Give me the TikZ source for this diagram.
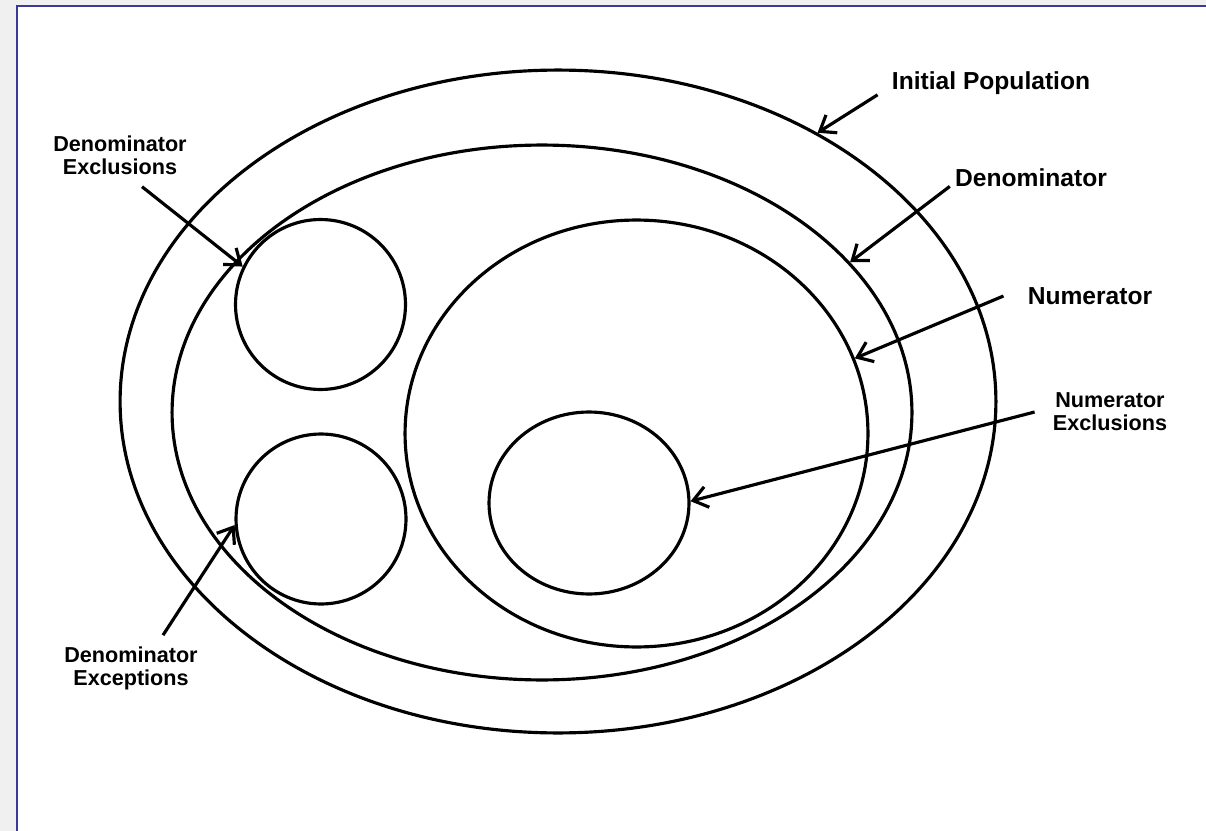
\documentclass[tikz,border=0pt]{standalone}
\usepackage{fontspec}
\setmainfont{Liberation Sans}
\usetikzlibrary{arrows.meta, shapes.geometric}
\definecolor{paneGray}{RGB}{240,240,240}
\definecolor{paneBlue}{RGB}{58,58,150}

\tikzset{
  setring/.style={draw, ellipse, inner sep=0pt, line width=1.8pt},
  setdisc/.style={draw, circle, inner sep=0pt, line width=1.8pt},
  biglabel/.style={font=\bfseries\fontsize{14}{16}\selectfont, inner sep=0pt},
  smalllabel/.style={font=\bfseries\fontsize{12.3}{13}\selectfont, align=center, inner sep=0pt},
  pointer/.style={-{Straight Barb[length=8pt,width=12pt]}, line width=1.8pt},
}

\begin{document}
\begin{tikzpicture}[x=0.02cm, y=-0.02cm]
  \useasboundingbox (0,0) rectangle (1206,831);
  % window frame
  \fill[paneGray] (0,0) rectangle (1206,831);
  \fill[white] (17,6) rectangle (1206,831);
  \draw[paneBlue, line width=0.6pt] (17,831) -- (17,6) -- (1206,6);

  % the sets
  \node[setring, minimum width=17.52cm, minimum height=13.26cm] (pop) at (558,401.5) {};
  \node[setring, minimum width=14.8cm, minimum height=10.7cm] (den) at (542,412.5) {};
  \node[setring, minimum width=9.26cm, minimum height=8.54cm] (num) at (636.5,433.5) {};
  \node[setring, minimum width=4cm, minimum height=3.64cm] (numExcl) at (589,503) {};
  \node[setdisc, minimum size=3.4cm] (denExcl) at (320.5,304.5) {};
  \node[setdisc, minimum size=3.4cm] (denExc) at (321,519) {};

  % labels
  \node[biglabel] (popLbl) at (991,83) {Initial Population};
  \node[biglabel] (denLbl) at (1031,178) {Denominator};
  \node[biglabel] (numLbl) at (1090,296) {Numerator};
  \node[smalllabel] (numExclLbl) at (1110,412) {Numerator\\Exclusions};
  \node[smalllabel] (denExclLbl) at (120,155) {Denominator\\Exclusions};
  \node[smalllabel] (denExcLbl) at (131,668) {Denominator\\Exceptions};

  % pointers
  \draw[pointer] ([shift={(-14,0)}]popLbl.south west) -- (pop.46);
  \draw[pointer] ([shift={(-5,-1)}]denLbl.south west) -- (den.26);
  \draw[pointer] ([shift={(-24,0)}]numLbl.west) -- (num.19);
  \draw[pointer] ([shift={(-18,0)}]numExclLbl.west) -- (numExcl.1);
  \draw[pointer] ([shift={(22,12)}]denExclLbl.south) -- (denExcl.154);
  \draw[pointer] ([shift={(32,-11)}]denExcLbl.north) -- (denExc.184);
\end{tikzpicture}
\end{document}
